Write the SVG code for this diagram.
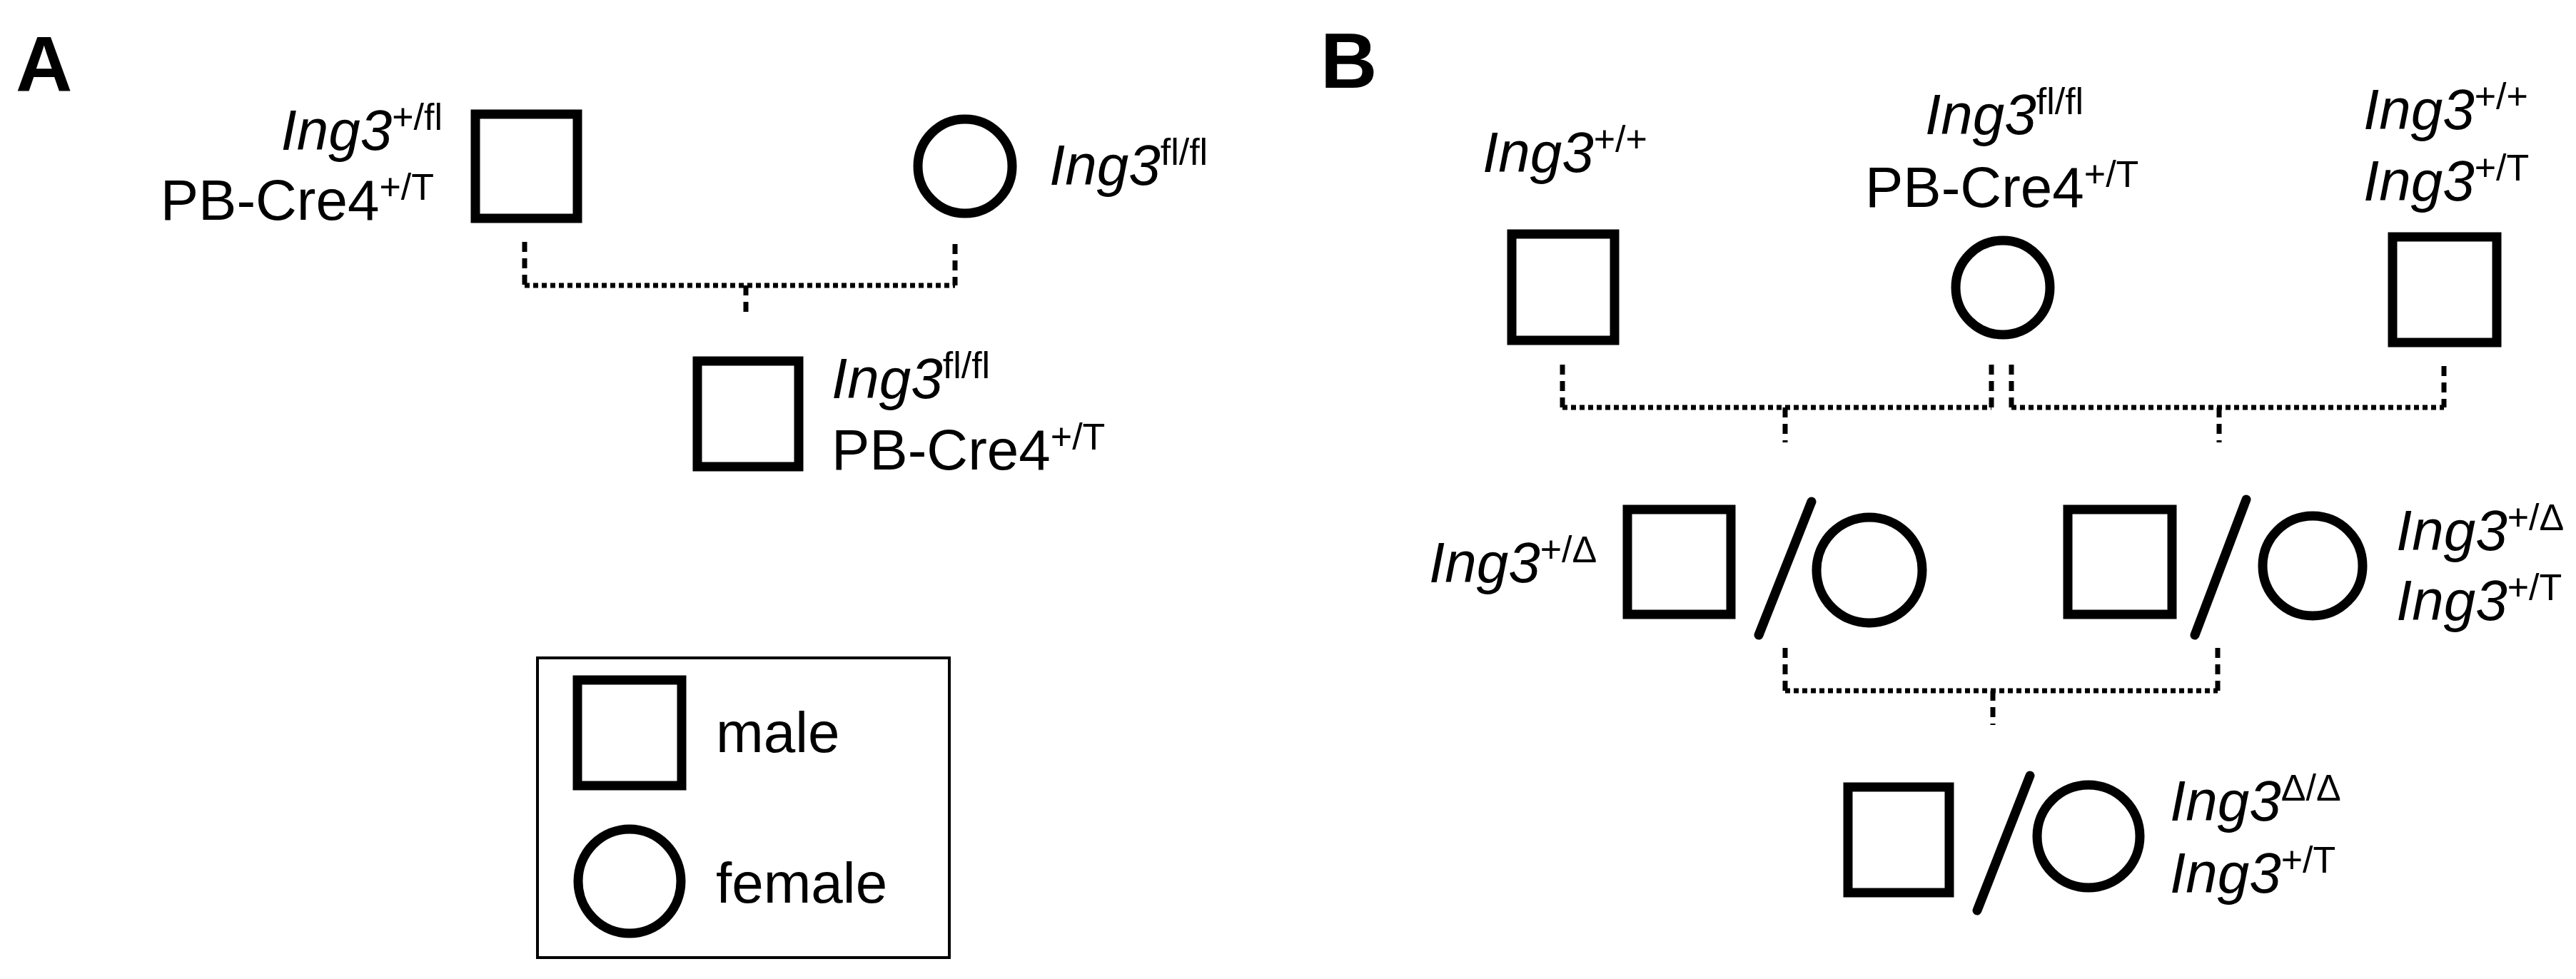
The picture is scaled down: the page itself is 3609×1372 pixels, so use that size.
<svg xmlns="http://www.w3.org/2000/svg" width="3609" height="1372" viewBox="0 0 3609 1372">
<style>
text{font-family:"Liberation Sans",Arial,sans-serif;font-size:80px;fill:#000}
.i{font-style:italic}
.s{font-size:52px;font-style:normal}
.lab{font-weight:bold;font-size:110px}
.sq,.ci{fill:none;stroke:#000;stroke-width:13}
.sl{stroke:#000;stroke-width:13;stroke-linecap:round}
.dv{fill:none;stroke:#000;stroke-width:7;stroke-dasharray:14 9}
.dh{fill:none;stroke:#000;stroke-width:7;stroke-dasharray:7 5}
</style>
<rect width="3609" height="1372" fill="#fff"/>
<text class="lab" x="22" y="127">A</text>
<text class="lab" x="1850" y="123">B</text>
<g id="connectors">
<path class="dv" d="M735 339V400M1338 342V400M1045 400V446"/>
<path class="dh" d="M735 400H1338"/>
<path class="dv" d="M2189 511V571M2790 511V571M2818 511V571M3424 513V571M2501 571V620M3109 571V620"/>
<path class="dh" d="M2189 571H2790M2818 571H3424"/>
<path class="dv" d="M2501 908V968M3107 908V968M2792 968V1016"/>
<path class="dh" d="M2501 968H3107"/>
</g>
<g id="a-father">
<rect class="sq" x="666" y="160" width="143" height="146"/>
<text x="620" y="210" text-anchor="end"><tspan class="i">Ing3</tspan><tspan class="s" dy="-28">+/fl</tspan></text>
<text x="608" y="308" text-anchor="end">PB-Cre4<tspan class="s" dy="-28">+/T</tspan></text>
</g>
<g id="a-mother">
<circle class="ci" cx="1352" cy="233" r="66"/>
<text x="1470" y="259"><tspan class="i">Ing3</tspan><tspan class="s" dy="-28">fl/fl</tspan></text>
</g>
<g id="a-child">
<rect class="sq" x="977" y="506" width="142" height="148"/>
<text x="1165" y="558"><tspan class="i">Ing3</tspan><tspan class="s" dy="-28">fl/fl</tspan></text>
<text x="1165" y="658">PB-Cre4<tspan class="s" dy="-28">+/T</tspan></text>
</g>
<g id="legend">
<rect x="753" y="922" width="577" height="420" fill="none" stroke="#000" stroke-width="4"/>
<rect class="sq" x="809" y="953" width="146" height="148"/>
<text x="1003" y="1054">male</text>
<ellipse class="ci" cx="882" cy="1235" rx="72" ry="73"/>
<text x="1003" y="1265">female</text>
</g>
<g id="b-p1">
<rect class="sq" x="2118" y="328" width="144" height="149"/>
<text x="2077" y="241"><tspan class="i">Ing3</tspan><tspan class="s" dy="-28">+/+</tspan></text>
</g>
<g id="b-p2">
<circle class="ci" cx="2806" cy="403" r="66"/>
<text x="2697" y="188"><tspan class="i">Ing3</tspan><tspan class="s" dy="-28">fl/fl</tspan></text>
<text x="2613" y="290">PB-Cre4<tspan class="s" dy="-28">+/T</tspan></text>
</g>
<g id="b-p3">
<rect class="sq" x="3352" y="332" width="146" height="148"/>
<text x="3311" y="181"><tspan class="i">Ing3</tspan><tspan class="s" dy="-28">+/+</tspan></text>
<text x="3311" y="281"><tspan class="i">Ing3</tspan><tspan class="s" dy="-28">+/T</tspan></text>
</g>
<g id="b-f1-left">
<rect class="sq" x="2280" y="714" width="145" height="147"/>
<line class="sl" x1="2538" y1="703" x2="2464" y2="890"/>
<circle class="ci" cx="2619" cy="799" r="74"/>
<text x="2002" y="816"><tspan class="i">Ing3</tspan><tspan class="s" dy="-28">+/Δ</tspan></text>
</g>
<g id="b-f1-right">
<rect class="sq" x="2897" y="714" width="146" height="147"/>
<line class="sl" x1="3147" y1="700" x2="3075" y2="890"/>
<circle class="ci" cx="3240" cy="793" r="70"/>
<text x="3357" y="771"><tspan class="i">Ing3</tspan><tspan class="s" dy="-28">+/Δ</tspan></text>
<text x="3357" y="869"><tspan class="i">Ing3</tspan><tspan class="s" dy="-28">+/T</tspan></text>
</g>
<g id="b-f2">
<rect class="sq" x="2589" y="1103" width="142" height="148"/>
<line class="sl" x1="2844" y1="1087" x2="2770" y2="1276"/>
<circle class="ci" cx="2926" cy="1172" r="72"/>
<text x="3040" y="1150"><tspan class="i">Ing3</tspan><tspan class="s" dy="-28">Δ/Δ</tspan></text>
<text x="3040" y="1251"><tspan class="i">Ing3</tspan><tspan class="s" dy="-28">+/T</tspan></text>
</g>
</svg>
